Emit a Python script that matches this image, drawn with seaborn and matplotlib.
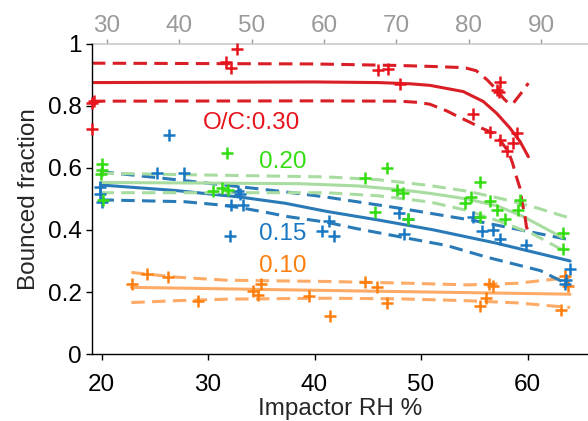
import matplotlib
matplotlib.use("Agg")
import matplotlib.pyplot as plt
import seaborn as sns

# ---------------- data: measured points ----------------
red_x = [19.1, 19.3, 19.1, 31.66, 32.13, 32.75, 46.0, 46.93, 48.03, 54.9, 56.5, 57.4,
         57.4, 57.1, 57.3, 58.1, 58.6, 59.06]
red_y = [0.81, 0.815, 0.724, 0.94, 0.923, 0.983, 0.916, 0.919, 0.870, 0.774, 0.717, 0.69,
         0.877, 0.852, 0.844, 0.653, 0.68, 0.712]

green_x = [20.0, 20.0, 19.95, 20.1, 31.75, 30.5, 31.3, 31.9, 44.74, 46.78, 47.7, 48.3, 45.7,
           48.8, 55.54, 54.1, 54.67, 55.5, 56.5, 57.1, 57.9, 59.3, 59.1, 63.3, 63.3]
green_y = [0.612, 0.594, 0.58, 0.497, 0.647, 0.524, 0.534, 0.529, 0.569, 0.601, 0.53, 0.519,
           0.457, 0.436, 0.554, 0.486, 0.506, 0.441, 0.493, 0.463, 0.436, 0.495, 0.463, 0.389, 0.339]

blue_x = [19.9, 19.9, 20.0, 26.37, 25.2, 27.7, 33.0, 32.8, 33.3, 32.2, 32.07, 40.7, 41.8,
          41.4, 47.9, 48.8, 48.4, 54.9, 55.7, 56.8, 57.4, 59.9, 64.0, 63.5, 63.6]
blue_y = [0.54, 0.515, 0.49, 0.705, 0.583, 0.583, 0.517, 0.524, 0.48, 0.48, 0.382, 0.396,
          0.382, 0.43, 0.454, 0.436, 0.387, 0.441, 0.398, 0.40, 0.371, 0.35, 0.274, 0.226, 0.24]

orange_x = [22.84, 24.3, 26.27, 29.1, 34.25, 34.7, 35.0, 39.5, 41.45, 44.74, 45.9, 46.8,
            56.4, 56.8, 56.1, 55.5, 63.1, 63.5, 63.8]
orange_y = [0.226, 0.258, 0.247, 0.171, 0.204, 0.191, 0.226, 0.188, 0.123, 0.231, 0.215, 0.163,
            0.226, 0.22, 0.18, 0.155, 0.141, 0.252, 0.22]

# ---------------- data: fitted curves and confidence bands ----------------
red_fit_x = [19.1, 30, 40, 46, 49, 50.85, 53.97, 55.85, 57.1, 58.36, 59.3, 60.08]
red_fit_y = [0.875, 0.876, 0.877, 0.875, 0.871, 0.866, 0.846, 0.814, 0.776, 0.728, 0.685, 0.636]
red_up_x = [19.1, 40, 48, 51, 54.1, 55.2, 56.2, 56.96, 57.8, 58.3, 58.7, 59.4, 60.08]
red_up_y = [0.9375, 0.935, 0.93, 0.927, 0.923, 0.913, 0.884, 0.857, 0.822, 0.806, 0.81, 0.841, 0.873]
red_lo_x = [19.1, 40, 48, 49.8, 50.85, 52.4, 53.5, 54.6, 55.7, 56.8, 57.4, 58.2, 58.6, 58.95,
            59.3, 59.5, 59.7, 59.9, 60.2]
red_lo_y = [0.815, 0.816, 0.815, 0.811, 0.805, 0.784, 0.765, 0.747, 0.728, 0.712, 0.69, 0.653,
            0.615, 0.572, 0.534, 0.486, 0.459, 0.41, 0.384]

green_fit_x = [19.9, 30, 38.6, 44, 48, 50.85, 54.3, 57.1, 59.5, 63.3]
green_fit_y = [0.553, 0.551, 0.549, 0.542, 0.53, 0.518, 0.50, 0.478, 0.445, 0.375]
green_up_x = [19.9, 30, 41.1, 46, 50.85, 54.3, 57.4, 60.5, 64.0]
green_up_y = [0.583, 0.577, 0.571, 0.562, 0.543, 0.525, 0.502, 0.475, 0.438]
green_lo_x = [19.9, 30, 41.1, 46, 50.85, 54.3, 57.6, 60.5, 63.3]
green_lo_y = [0.52, 0.52, 0.52, 0.51, 0.49, 0.463, 0.425, 0.387, 0.335]

blue_fit_x = [19.9, 27, 33.0, 37.25, 41.1, 46, 51.2, 57, 64.0]
blue_fit_y = [0.545, 0.527, 0.506, 0.486, 0.46, 0.432, 0.40, 0.358, 0.30]
blue_up_x = [19.9, 25.65, 32.8, 37.2, 41.1, 48.0, 55.0, 64.0]
blue_up_y = [0.588, 0.567, 0.54, 0.523, 0.506, 0.47, 0.43, 0.368]
blue_lo_x = [19.9, 27.8, 31.0, 33.0, 35.4, 37.5, 41.1, 44.0, 48.0, 52.4, 56.2, 61.2, 63.7]
blue_lo_y = [0.497, 0.491, 0.481, 0.472, 0.457, 0.443, 0.425, 0.404, 0.378, 0.35, 0.312,
             0.269, 0.226]

orange_fit_x = [22.8, 41.1, 64.0]
orange_fit_y = [0.215, 0.205, 0.193]
orange_up_x = [22.8, 27, 31.75, 41.1, 48, 54.3, 59, 64.0]
orange_up_y = [0.263, 0.248, 0.238, 0.234, 0.229, 0.223, 0.228, 0.247]
orange_lo_x = [22.8, 27, 31.75, 41.1, 48, 54.3, 59, 64.0]
orange_lo_y = [0.166, 0.172, 0.177, 0.18, 0.178, 0.172, 0.165, 0.15]

labels = ["O/C:0.30", "0.20", "0.15", "0.10"]
label_x = [29.5, 34.8, 34.8, 34.8]
label_y = [0.744, 0.619, 0.387, 0.285]

y_ticks = [0, 0.2, 0.4, 0.6, 0.8, 1]
x_ticks = [20, 30, 40, 50, 60]
top_ticks = [30, 40, 50, 60, 70, 80, 90]

# ---------------- style ----------------
sns.set_theme(style="ticks")
plt.rcParams['font.family'] = ['Liberation Sans', 'DejaVu Sans']
FS = 17.5

RED_P, RED_L = "#e8141c", "#d91e26"
GRN_P, GRN_L = "#33dd11", "#a8dca0"
BLU_P, BLU_L = "#1a78c2", "#2a7ab8"
ORG_P, ORG_L = "#ff7f0e", "#fdab66"
GRAY = "#9a9a9a"

fig = plt.figure(figsize=(5.88, 4.21), dpi=100)
ax = fig.add_axes([0.156, 0.159, 0.844, 0.737])

def curve(x, y, color, dashed=False):
    sns.lineplot(x=x, y=y, color=color, linewidth=2.2, ax=ax, estimator=None,
                 sort=False, legend=False)
    ln = ax.lines[-1]
    if dashed:
        ln.set_dashes((4.4, 2.4))
    ln.set_zorder(2)
    ln.set_solid_joinstyle('round')
    ln.set_dash_joinstyle('round')

for fx, fy, ux, uy, lx, ly, c in [
        (orange_fit_x, orange_fit_y, orange_up_x, orange_up_y, orange_lo_x, orange_lo_y, ORG_L),
        (blue_fit_x, blue_fit_y, blue_up_x, blue_up_y, blue_lo_x, blue_lo_y, BLU_L),
        (green_fit_x, green_fit_y, green_up_x, green_up_y, green_lo_x, green_lo_y, GRN_L),
        (red_fit_x, red_fit_y, red_up_x, red_up_y, red_lo_x, red_lo_y, RED_L)]:
    curve(fx, fy, c)
    curve(ux, uy, c, dashed=True)
    curve(lx, ly, c, dashed=True)

for px, py, c in [(orange_x, orange_y, ORG_P), (blue_x, blue_y, BLU_P),
                  (green_x, green_y, GRN_P), (red_x, red_y, RED_P)]:
    sns.scatterplot(x=px, y=py, marker='+', s=70, color=c, linewidth=1.8,
                    ax=ax, legend=False, zorder=3, clip_on=False)

for t, tx, ty, c in zip(labels, label_x, label_y, [RED_P, GRN_P, BLU_P, ORG_P]):
    ax.text(tx, ty, t, color=c, fontsize=FS, ha='left', va='center')

ax.set_xlim(19.08, 65.68)
ax.set_ylim(0, 1)
ax.set_xticks(x_ticks)
ax.set_xticklabels([str(v) for v in x_ticks])
ax.set_yticks(y_ticks)
ax.set_yticklabels(["0", "0.2", "0.4", "0.6", "0.8", "1"])
ax.set_xlabel("Impactor RH %", fontsize=FS, labelpad=2)
ax.set_ylabel("Bounced fraction", fontsize=FS, labelpad=6)

ax.spines['right'].set_visible(False)
ax.spines['top'].set_visible(False)
for s in ['left', 'bottom']:
    ax.spines[s].set_color('black')
    ax.spines[s].set_linewidth(1.0)
ax.tick_params(axis='y', direction='out', length=4, width=1, labelsize=FS, pad=3, colors='black')
ax.tick_params(axis='x', direction='out', length=4, width=1, labelsize=FS, pad=10, colors='black')

sec = ax.secondary_xaxis('top', functions=(lambda x: 1.472 * x - 0.2,
                                           lambda x: (x + 0.2) / 1.472))
sec.set_xticks(top_ticks)
sec.set_xticklabels([str(v) for v in top_ticks])
sec.tick_params(axis='x', direction='out', length=3.5, width=1, labelsize=FS, pad=1.5,
                colors=GRAY)
sec.spines['top'].set_color('#c8c8c8')
sec.spines['top'].set_linewidth(1.2)

fig.savefig("out.png", dpi=100)
